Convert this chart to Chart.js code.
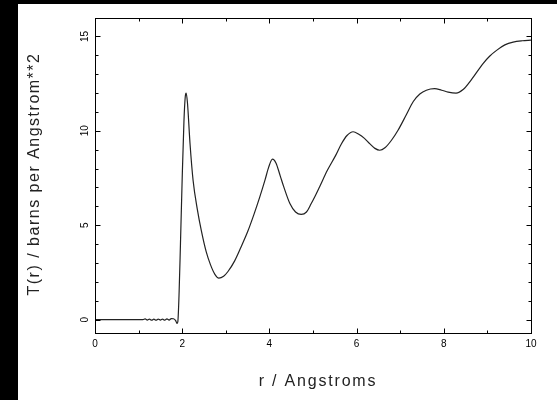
<!DOCTYPE html>
<html>
<head>
<meta charset="utf-8">
<script src="https://cdn.jsdelivr.net/npm/chart.js@4/dist/chart.umd.min.js"></script>
<style>
  html, body { margin: 0; padding: 0; background: #000; }
  #wrap { position: absolute; left: 18px; top: 4px; width: 539px; height: 396px; background: #fff; }
</style>
</head>
<body>
<div id="wrap"><canvas id="myChart"></canvas></div>
<script>
// r in Angstroms
var rValues = [
  0, 0.5, 1.0, 1.1, 1.15, 1.2, 1.25, 1.3, 1.35, 1.4, 1.45, 1.5, 1.55, 1.6, 1.65, 1.7, 1.75, 1.8, 1.85, 1.88, 1.9,
  1.93, 1.96, 2.0, 2.04, 2.07, 2.09, 2.12, 2.18, 2.25, 2.35, 2.44, 2.55, 2.65, 2.75, 2.84, 2.95,
  3.05, 3.2, 3.35, 3.5, 3.65, 3.78, 3.9, 3.98, 4.07, 4.15, 4.25, 4.33, 4.47, 4.6, 4.73, 4.85,
  4.96, 5.05, 5.15, 5.33, 5.52, 5.65, 5.78, 5.92, 6.05, 6.18, 6.3, 6.42, 6.53, 6.65, 6.8, 6.95,
  7.14, 7.3, 7.45, 7.6, 7.79, 7.95, 8.1, 8.28, 8.45, 8.63, 8.9,
  9.05, 9.21, 9.4, 9.59, 9.8, 10.0
];
// T(r) in barns per Angstrom**2
var tValues = [
  0, 0, 0, 0, 0.04, -0.02, 0.03, -0.03, 0.03, -0.03, 0.03, -0.02, 0.03, -0.03, 0.04, -0.02, 0.06, 0.05, -0.05, -0.2, -0.1,
  1.5, 4.0, 7.5, 10.5, 11.8, 12.0, 11.5, 9.3, 7.37, 5.8, 4.7, 3.6, 2.9, 2.4, 2.2, 2.3,
  2.55, 3.1, 3.85, 4.65, 5.6, 6.5, 7.4, 8.05, 8.5, 8.3, 7.6, 7.03, 6.15, 5.7, 5.57, 5.7,
  6.15, 6.55, 7.03, 7.91, 8.7, 9.3, 9.75, 9.95, 9.82, 9.6, 9.32, 9.07, 8.97, 9.1, 9.5, 10.03,
  10.85, 11.55, 11.95, 12.15, 12.23, 12.15, 12.05, 12.0, 12.2, 12.7, 13.56,
  13.95, 14.26, 14.55, 14.7, 14.77, 14.8
];
var xTicks = [0, 2, 4, 6, 8, 10];
var yTicks = [0, 5, 10, 15];

var points = rValues.map(function (r, i) { return { x: r, y: tValues[i] }; });

// frame, inward tick marks and labels drawn off the chart's own scales
var framePlugin = {
  id: 'frame',
  afterDraw: function (chart) {
    var c = chart.ctx, a = chart.chartArea;
    var xs = chart.scales.x, ys = chart.scales.y;
    var L = Math.round(a.left) + 0.5, R = Math.round(a.right) + 0.5;
    var T = Math.round(a.top) + 0.5, B = Math.round(a.bottom) + 0.5;
    c.save();
    c.strokeStyle = '#000';
    c.lineWidth = 1;
    c.strokeRect(L, T, R - L, B - T);
    c.beginPath();
    for (var v = xs.min; v <= xs.max; v += 1) {
      var px = Math.round(xs.getPixelForValue(v)) + 0.5;
      var len = (v % 2 === 0) ? 5 : 3;
      c.moveTo(px, B); c.lineTo(px, B - len);
      c.moveTo(px, T); c.lineTo(px, T + len);
    }
    for (var w = 0; w <= 16; w += 1) {
      var py = Math.round(ys.getPixelForValue(w)) + 0.5;
      if (py < T + 1) continue;
      var l2 = (w % 5 === 0) ? 5 : 3;
      c.moveTo(L, py); c.lineTo(L + l2, py);
      c.moveTo(R, py); c.lineTo(R - l2, py);
    }
    c.stroke();

    c.fillStyle = '#000';
    c.font = '10px "Liberation Sans", Arial, sans-serif';
    c.textAlign = 'center';
    c.textBaseline = 'middle';
    xTicks.forEach(function (t) {
      c.fillText(String(t), xs.getPixelForValue(t), B + 11);
    });
    yTicks.forEach(function (t) {
      c.save();
      c.translate(L - 10, ys.getPixelForValue(t));
      c.rotate(-Math.PI / 2);
      c.fillText(String(t), 0, 0);
      c.restore();
    });

    c.font = '16px "Liberation Sans", Arial, sans-serif';
    c.fillStyle = '#222';
    c.letterSpacing = '1.8px';
    c.fillText('r / Angstroms', (a.left + a.right) / 2 + 5, 378);
    c.letterSpacing = '1.5px';
    c.save();
    c.translate(17, (a.top + a.bottom) / 2 - 1);
    c.rotate(-Math.PI / 2);
    c.fillText('T(r) / barns per Angstrom**2', 0, 0);
    c.restore();
    c.restore();
  }
};

var ctx = document.getElementById('myChart').getContext('2d');
var myChart = new Chart(ctx, {
  type: 'line',
  data: {
    datasets: [{
      data: points,
      borderColor: '#222222',
      borderWidth: 1.2,
      pointRadius: 0,
      fill: false,
      cubicInterpolationMode: 'monotone'
    }]
  },
  options: {
    responsive: true,
    maintainAspectRatio: false,
    animation: false,
    layout: { padding: { left: 77, top: 13.5, right: 26, bottom: 67.5 } },
    plugins: {
      legend: { display: false },
      tooltip: { enabled: false }
    },
    scales: {
      x: { type: 'linear', min: 0, max: 10, display: false },
      y: { type: 'linear', min: -0.68, max: 16, display: false }
    }
  },
  plugins: [framePlugin]
});
</script>
</body>
</html>
